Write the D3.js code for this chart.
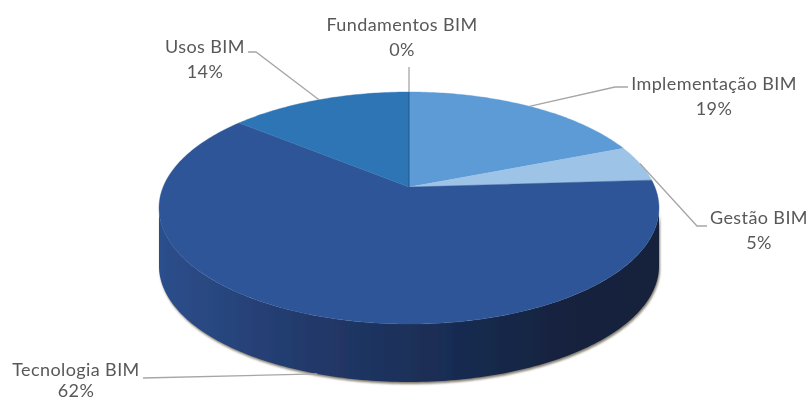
<!DOCTYPE html>
<html><head><meta charset="utf-8">
<style>html,body{margin:0;padding:0;background:#fff}svg{display:block}text{font-family:Lato,"Open Sans",sans-serif;fill:#595959;font-size:18px;letter-spacing:.4px;text-anchor:middle}</style>
<script src="https://cdn.jsdelivr.net/npm/d3@7"></script>
</head><body><svg id="c" width="810" height="402"></svg>
<script>
const categories=["Implementação BIM","Gestão BIM","Tecnologia BIM","Usos BIM","Fundamentos BIM"];
const values=[19,5,62,14,0];
const colors=["#5b9bd5","#9dc3e6","#2f5597","#2e75b6","#1f4e79"];

const W=810,H=402,cx=409,cy=208,rx=250,ry=116,depth=58,a=-0.18;
const svg=d3.select("#c");
const pie=d3.pie().sort(null).value(d=>d)(values);
function proj(t,dy=0){
  const c=Math.sin(t),s=-Math.cos(t),k=1+a*s;
  return [cx+rx*c*Math.sqrt(1-a*a)/k, cy+ry*(s+a)/k+dy];
}
const apex=[cx,cy+ry*a];
const line=d3.line();
function arcPts(t0,t1,dy=0){
  const n=Math.max(2,Math.ceil((t1-t0)*60));
  return d3.range(n+1).map(i=>proj(t0+(t1-t0)*i/n,dy));
}
const defs=svg.append("defs");
const g=defs.append("linearGradient").attr("id","side").attr("gradientUnits","userSpaceOnUse")
  .attr("x1",cx-rx).attr("x2",cx+rx).attr("y1",0).attr("y2",0);
[[0,"#2c4f8c"],[.3,"#22396a"],[.55,"#1a2e55"],[.8,"#14233f"],[1,"#12203a"]].forEach(([o,c])=>g.append("stop").attr("offset",o).attr("stop-color",c));
const bl=defs.append("filter").attr("id","sh").attr("x","-10%").attr("y","-10%").attr("width","120%").attr("height","120%");
bl.append("feGaussianBlur").attr("stdDeviation",1.2);
const soft=defs.append("filter").attr("id","soft").attr("x","-5%").attr("y","-5%").attr("width","110%").attr("height","110%");
soft.append("feGaussianBlur").attr("stdDeviation",0.5);
const softT=defs.append("filter").attr("id","softT").attr("x","-5%").attr("y","-20%").attr("width","110%").attr("height","140%");
softT.append("feGaussianBlur").attr("stdDeviation",0.35);

// side wall: only the front rim between the two silhouette points of the ellipse
const root=svg.append("g").attr("filter","url(#soft)");
const rimStart=Math.acos(a), rimEnd=2*Math.PI-Math.acos(a);
const side=[];
pie.forEach(p=>{
  const t0=Math.max(p.startAngle,rimStart),t1=Math.min(p.endAngle,rimEnd);
  if(t1<=t0)return;
  side.push(arcPts(t0,t1).concat(arcPts(t0,t1,depth).reverse()));
});
side.forEach(pts=>root.append("path").attr("d",line(pts)+"Z").attr("fill","#5a5040").attr("opacity",.75).attr("transform","translate(1,2)").attr("filter","url(#sh)"));
side.forEach(pts=>root.append("path").attr("d",line(pts)+"Z").attr("fill","url(#side)"));
// top faces
root.selectAll("path.top").data(pie).join("path").attr("class","top")
  .attr("d",p=>line([apex].concat(arcPts(p.startAngle,p.endAngle)))+"Z")
  .attr("fill",(p,i)=>colors[i]).attr("stroke",(p,i)=>colors[i]).attr("stroke-width",.4);

// leader lines start on the slice mid-angle
const layout=[
 {label:[714,90],lead:25,elbow:[[628,87],[615,87]],dy:0},
 {label:[759,224],lead:25,elbow:[[707,226],[697,226]],dy:0},
 {label:[76,376],lead:21,elbow:[[143,378]],dy:depth},
 {label:[205,53],lead:25,elbow:[[248,52],[256,52]],dy:0},
 {label:[402,31],lead:25,elbow:[[409,67]],dy:0}
];
pie.forEach((p,i)=>{
  const m=(p.startAngle+p.endAngle)/2,L=layout[i];
  const pts=L.elbow.concat([proj(m,L.dy)]);
  svg.append("path").attr("d",line(pts)).attr("fill","none").attr("stroke","#a6a6a6").attr("stroke-width",1.3);
  const t=svg.append("text").attr("x",L.label[0]).attr("y",L.label[1]).attr("filter","url(#softT)");
  t.append("tspan").attr("x",L.label[0]).text(categories[i]);
  t.append("tspan").attr("x",L.label[0]).attr("dy",L.lead).text(values[i]+"%");
});
</script></body></html>
